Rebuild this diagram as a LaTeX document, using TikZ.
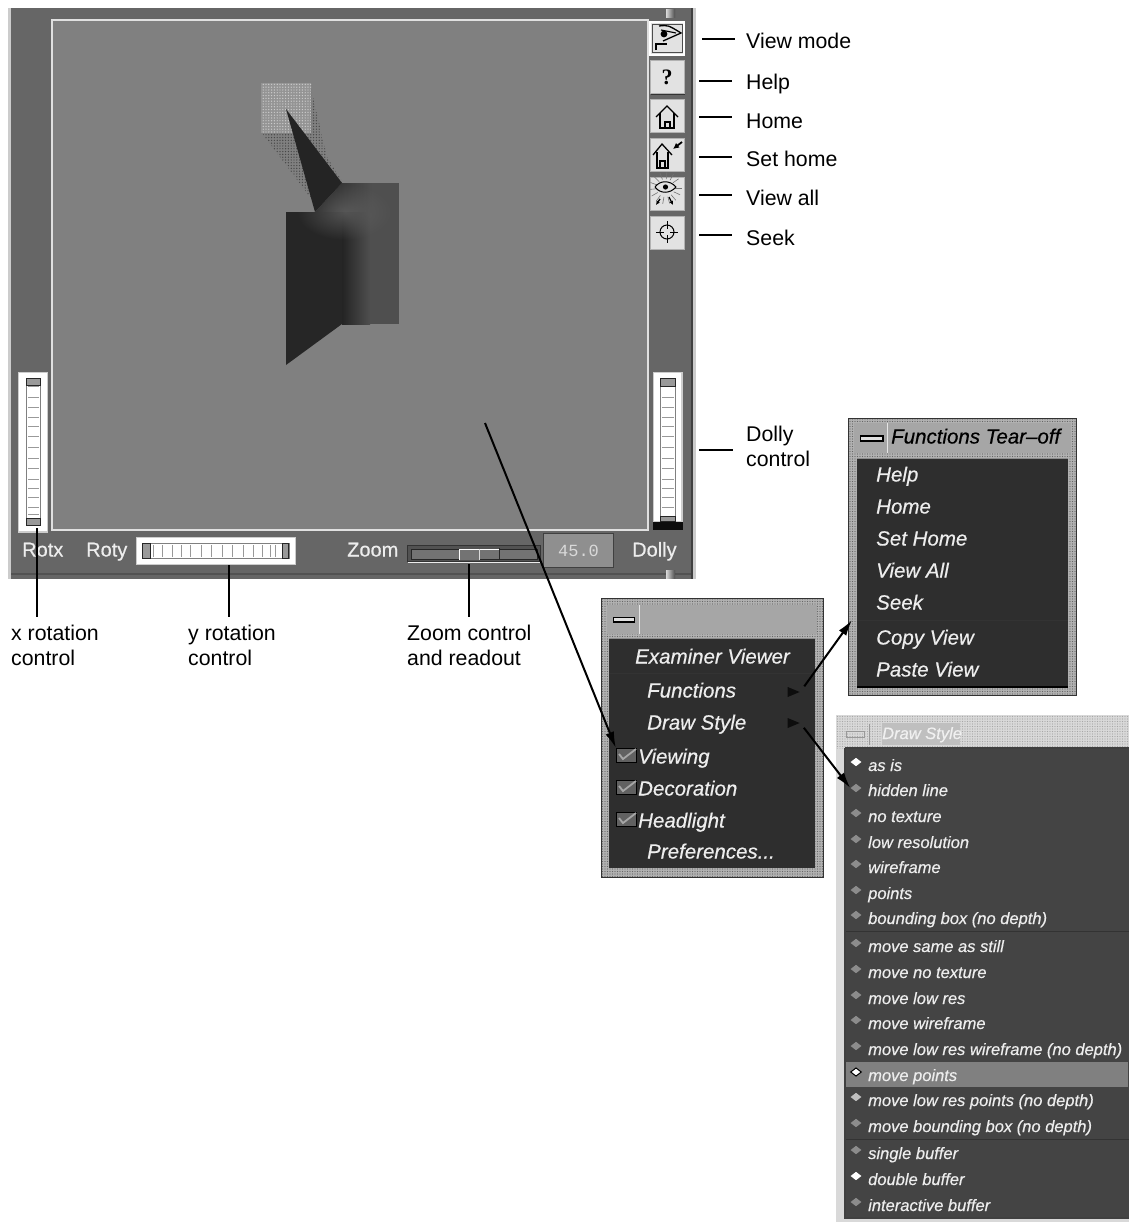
\documentclass[tikz,border=0pt]{standalone}
\usepackage{fontspec}
\setmainfont{Liberation Sans}[ItalicFeatures={FakeBold=0.5}]
\newfontfamily\serifbold{Liberation Serif}[BoldFont=Liberation Serif Bold]
\newfontfamily\readoutfont{Liberation Mono}
\newfontfamily\panelfont{Liberation Sans}[FakeBold=0.5]
\usetikzlibrary{shapes.geometric,arrows.meta,patterns.meta,fadings}

\definecolor{panel}{HTML}{666666}
\definecolor{canvas}{HTML}{808080}
\definecolor{btnface}{HTML}{E2E2E2}
\definecolor{menudark}{HTML}{2E2E2E}
\definecolor{menugrey}{HTML}{444444}
\definecolor{inktext}{HTML}{EDEDED}

\tikzfading[name=softspot, inner color=transparent!25, outer color=transparent!100]

\tikzset{
  btn/.style={draw=black!30, fill=btnface, line width=1pt, minimum width=34pt, minimum height=33pt, inner sep=0pt,
    preaction={fill=black!80, transform canvas={xshift=1.2pt,yshift=-1.2pt}}},
  leadlabel/.style={anchor=west, inner sep=0pt, font=\fontsize{21.3}{25}\selectfont, text height=15pt, text depth=0pt},
  twoline/.style={anchor=north west, inner sep=0pt, align=left, font=\fontsize{21.3}{25}\selectfont},
  leadline/.style={line width=2pt, black},
  pointer/.style={line width=2pt, black, -{Latex[length=16pt,width=9pt]}},
  panellabel/.style={anchor=west, inner sep=0pt, text=inktext, font=\panelfont\fontsize{20}{24}\selectfont, text height=15pt, text depth=0pt},
  bigitem/.style={anchor=west, inner sep=0pt, text=inktext, font=\fontsize{20.5}{24}\selectfont\itshape, text height=15pt, text depth=0pt},
  smallitem/.style={anchor=west, inner sep=0pt, text=inktext, font=\fontsize{16.5}{20}\selectfont\itshape, text height=12pt, text depth=0pt},
  radio/.style={diamond, fill=black!45, minimum width=11pt, minimum height=8.5pt, inner sep=0pt},
  radioon/.style={radio, fill=white},
  tick/.style={black!40, line width=0.9pt},
  wheelcap/.style={draw=black!85, fill=black!40, line width=1pt},
  arrowtri/.style={isosceles triangle, fill=black!95, minimum width=10pt, minimum height=12pt, inner sep=0pt, isosceles triangle stretches},
  checkbox/.style={fill=black!62, draw=black, minimum width=20pt, minimum height=14pt, inner sep=0pt},
  checkmark/.style={black!35, line width=1.8pt},
  sepline/.style={black!80, line width=1pt},
  menuframe/.style={draw=black!80, line width=1pt, preaction={fill=black!30}, pattern={Dots[distance=2.5pt,radius=0.7pt]}, pattern color=black!60}
}

\begin{document}
\begin{tikzpicture}[x=1pt,y=-1pt]
\useasboundingbox (0,0) rectangle (1129,1224);

% Draw viewer window
\fill[panel] (8,8) rectangle (695,579);
\fill[black!20] (8,8) rectangle (10.5,579);
\fill[black!75] (691,8) rectangle (692.5,579);
\fill[black!20] (692.5,8) rectangle (695.5,579);
\fill[black!68] (10.5,572.5) rectangle (691,574.5);
\draw[fill=canvas, draw=black!12, line width=2pt] (52,19.5) rectangle (648,529.5);
\shade[left color=black!15, right color=black!70] (666,9) rectangle (675,17);
\shade[left color=black!15, right color=black!70] (666,570) rectangle (675,578);

% Draw scene inside viewer
\fill[black!50] (262,133) -- (311,88) -- (327,157) -- (343,183) -- (310,197) -- cycle;
\fill[pattern={Dots[distance=2.8pt,radius=0.7pt]}, pattern color=black!72] (262,133) -- (311,88) -- (327,157) -- (343,183) -- (310,197) -- cycle;
\fill[black!42] (261,83) rectangle (311,133);
\fill[pattern={Dots[distance=2.8pt,radius=0.7pt]}, pattern color=black!20] (261,83) rectangle (311,133);
\fill[black!69] (342,183) rectangle (399,324);
\shade[left color=black!86, right color=black!69] (315,212) -- (342,183) -- (372,183) -- (372,212) -- cycle;
\shade[left color=black!86, right color=black!69] (342,212) rectangle (370,324);
\fill[black!85] (286,212) -- (342,212) -- (342,324) -- (286,365) -- cycle;
\fill[black!86] (286,109) -- (342,183) -- (315,212) -- cycle;
\begin{scope}
  \clip (315,212) -- (342,183) -- (399,183) -- (399,324) -- (342,324) -- (286,365) -- (286,212) -- cycle;
  \fill[black!62, path fading=softspot] (345,212) ellipse [x radius=48, y radius=28];
\end{scope}

% Draw buttons column
\node[btn, draw=white, line width=1.5pt] (btnView) at (667,38.5) {};
\draw[black!70, line width=0.8pt] (652,24.5) rectangle (682,52.5);
\node[btn] (btnHelp) at (667,77) {\serifbold\bfseries\fontsize{22}{22}\selectfont ?};
\node[btn] (btnHome) at (667,115.5) {};
\node[btn] (btnSet) at (667,154.5) {};
\node[btn] (btnAll) at (667,193.5) {};
\node[btn] (btnSeek) at (667,232.5) {};
\draw[line width=1.3pt] (656,50) -- (656,44) -- (667,44);
\draw[line width=1.3pt] (659,26) .. controls (668,25) .. (681,33) -- (663,41);
\draw[line width=1.1pt] (661,30) -- (676,33);
\fill (664,34) circle (3.4pt);
\draw[line width=1.3pt] (656,117) -- (667,106) -- (678,117);
\draw[line width=1.3pt] (660,113) -- (660,128) -- (674,128) -- (674,113);
\draw[line width=1.1pt] (665,128) -- (665,122) -- (670,122) -- (670,128);
\draw[line width=1.3pt] (653,155) -- (662,144) -- (672,155);
\draw[line width=1.3pt] (657,152) -- (657,168) -- (668,168) -- (668,152);
\draw[line width=1.1pt] (660,168) -- (660,161) -- (665,161) -- (665,168);
\draw[line width=1.8pt, -{Latex[length=6pt,width=6pt]}] (682,142) -- (673,149);
\foreach \ang in {0,25,...,335}
  \draw[black!55, line width=0.6pt] (665.5,188) ++(\ang:9) -- ++(\ang:7);
\draw[fill=btnface, line width=1pt] (655,187) .. controls (660,180) and (670,180) .. (676,187) .. controls (670,194) and (660,194) .. (655,187);
\fill (665.5,187) circle (2.6pt);
\draw[line width=1.3pt, -{Latex[length=4pt,width=4pt]}] (660,199) -- (656,205);
\draw[line width=1.3pt, -{Latex[length=4pt,width=4pt]}] (669,197) -- (673,205);
\draw[line width=1pt] (667,232) circle (7pt);
\draw[line width=1pt] (667,221) -- (667,229) (667,235) -- (667,243) (656,232) -- (664,232) (670,232) -- (678,232);

% Draw thumbwheels
\draw[draw=black!20, fill=white, line width=1.5pt] (18.5,372.5) rectangle (47.5,532);
\draw[draw=black!50, fill=white, line width=1pt] (26.5,378) rectangle (40.5,525);
\draw[wheelcap] (26.5,378) rectangle (40.5,385);
\draw[wheelcap] (26.5,518) rectangle (40.5,525);
\foreach \ty in {386,397,407,417,426,436,447,458,468,479,488,497,507,514}
  \draw[tick] (28,\ty) -- (39,\ty);
\draw[draw=black!20, fill=white, line width=1.5pt] (653.5,372.5) rectangle (682,522);
\fill[black!95] (653,522) rectangle (682.5,530);
\draw[draw=black!50, fill=white, line width=1pt] (660.5,378) rectangle (675,521);
\draw[wheelcap] (660.5,378) rectangle (675,386);
\draw[wheelcap] (660.5,516) rectangle (675,521);
\foreach \ty in {397,407,417,426,436,447,458,468,479,488,497,507}
  \draw[tick] (662,\ty) -- (673.5,\ty);
\draw[draw=black!20, fill=white, line width=1.5pt] (136.5,537.5) rectangle (295.5,564.5);
\draw[draw=black!50, fill=white, line width=1pt] (142,543.5) rectangle (289,558);
\draw[wheelcap] (142.5,543.5) rectangle (150,558);
\draw[wheelcap] (282,543.5) rectangle (288.5,558);
\foreach \tx in {153,162,172,181,190,201,211,222,232,243,253,262,270,275}
  \draw[tick] (\tx,545) -- (\tx,556.5);

% Draw zoom slider and readout
\draw[draw=black!80, fill=black!68, line width=1pt] (407.5,545) rectangle (540,561);
\draw[black!8, line width=1pt] (408,562.5) -- (540,562.5);
\draw[draw=black!85, fill=black!55, line width=0.8pt] (411,549) rectangle (537,559);
\fill[black!55] (459,549) rectangle (479,560);
\draw[white, line width=1pt] (459.5,560) -- (459.5,549) -- (499,549);
\draw[black!15, line width=1pt] (479,549) -- (479,560);
\draw[black!85, line width=1pt] (499.5,548) -- (499.5,560);
\node[draw=black!75, fill=black!44, line width=1pt, minimum width=70pt, minimum height=34pt, inner sep=0pt, anchor=north west, text=black!15, font=\readoutfont\fontsize{17}{20}\selectfont] (readout) at (543,533) {45.0};

\node[panellabel] (lblRotx) at (22,549) {Rotx};
\node[panellabel] (lblRoty) at (86,549) {Roty};
\node[panellabel] (lblZoom) at (347,549) {Zoom};
\node[panellabel] (lblDolly) at (632,549) {Dolly};

% Draw labels on the right
\node[leadlabel] (lblView) at (746,41) {View mode};
\node[leadlabel] (lblHelp) at (746,82) {Help};
\node[leadlabel] (lblHome) at (746,121) {Home};
\node[leadlabel] (lblSet) at (746,159) {Set home};
\node[leadlabel] (lblAll) at (746,198) {View all};
\node[leadlabel] (lblSeek) at (746,238) {Seek};
\node[twoline] (lblDollyCtl) at (746,426) {Dolly\\control};
\node[twoline] (lblRotxCtl) at (11,625) {x rotation\\control};
\node[twoline] (lblRotyCtl) at (188,625) {y rotation\\control};
\node[twoline] (lblZoomCtl) at (407,625) {Zoom control\\and readout};

\coordinate (startView) at (702,39);
\coordinate (startHelp) at (699,81);
\coordinate (startHome) at (699,117);
\coordinate (startSet) at (699,157);
\coordinate (startAll) at (699,195);
\coordinate (startSeek) at (699,235);
\coordinate (startDolly) at (699,450);
\coordinate (startRotx) at (36.5,528);
\coordinate (startRoty) at (228.5,565);
\coordinate (startZoom) at (468.5,564);
\draw[leadline, shorten >=11pt] (startView) -- (startView -| lblView.west);
\draw[leadline, shorten >=14pt] (startHelp) -- (startHelp -| lblHelp.west);
\draw[leadline, shorten >=14pt] (startHome) -- (startHome -| lblHome.west);
\draw[leadline, shorten >=14pt] (startSet) -- (startSet -| lblSet.west);
\draw[leadline, shorten >=14pt] (startAll) -- (startAll -| lblAll.west);
\draw[leadline, shorten >=14pt] (startSeek) -- (startSeek -| lblSeek.west);
\draw[leadline, shorten >=13pt] (startDolly) -- (startDolly -| lblDollyCtl.west);
\draw[leadline, shorten >=8pt] (startRotx) -- (startRotx |- lblRotxCtl.north);
\draw[leadline, shorten >=8pt] (startRoty) -- (startRoty |- lblRotyCtl.north);
\draw[leadline, shorten >=8pt] (startZoom) -- (startZoom |- lblZoomCtl.north);

% Draw examiner popup
\draw[menuframe] (601,598.5) rectangle (823,877.5);
\fill[black!35] (607,605) rectangle (817,634);
\draw[black!10, line width=1pt] (639.5,605) -- (639.5,634);
\draw[draw=black, fill=black!12, line width=1.2pt] (613.5,617.5) rectangle (634.5,622);
\fill[menudark] (609,638) rectangle (815,868);
\draw[black!45, line width=1pt] (609,638) -- (815,638);
\draw[sepline] (609,673) -- (815,673);
\node[bigitem] (itemExam) at (635,656) {Examiner Viewer};
\node[bigitem] (itemFunc) at (647,690) {Functions};
\node[bigitem] (itemDraw) at (647,722) {Draw Style};
\node[bigitem] (itemView) at (638,756) {Viewing};
\node[bigitem] (itemDeco) at (638,788) {Decoration};
\node[bigitem] (itemHead) at (638,820) {Headlight};
\node[bigitem] (itemPref) at (647,851) {Preferences...};
\node[arrowtri] (triFunc) at (791,692) {};
\node[arrowtri] (triDraw) at (791,723) {};
\node[checkbox] (chkView) at (626,755) {};
\node[checkbox] (chkDeco) at (626,787) {};
\node[checkbox] (chkHead) at (626,819) {};
\draw[checkmark] (619,754) -- (623,759) -- (636,749);
\draw[checkmark] (619,786) -- (623,791) -- (636,781);
\draw[checkmark] (619,818) -- (623,823) -- (636,813);

% Draw functions tear-off
\draw[menuframe] (848,418.5) rectangle (1076,695);
\fill[black!35] (854,423) rectangle (1071,453);
\draw[black!10, line width=1pt] (887.5,423) -- (887.5,453);
\draw[draw=black, fill=black!12, line width=1.2pt] (860.5,436) rectangle (883,441);
\node[bigitem, text=black] (titleFunc) at (891,436) {Functions Tear–off};
\fill[menudark] (857,458) rectangle (1068,687);
\draw[black!45, line width=1pt] (857,458) -- (1068,458);
\draw[black, line width=2pt] (857,687) -- (1068,687);
\draw[sepline] (857,620) -- (1068,620);
\node[bigitem] (funcHelp) at (876,474) {Help};
\node[bigitem] (funcHome) at (876,506) {Home};
\node[bigitem] (funcSet) at (876,538) {Set Home};
\node[bigitem] (funcAll) at (876,570) {View All};
\node[bigitem] (funcSeek) at (876,602) {Seek};
\node[bigitem] (funcCopy) at (876,637) {Copy View};
\node[bigitem] (funcPaste) at (876,669) {Paste View};

% Draw draw style menu
\fill[black!15] (836,715) rectangle (1129,1222);
\fill[pattern={Dots[distance=2.5pt,radius=0.6pt]}, pattern color=black!35] (836,715) rectangle (1129,748);
\fill[black!25] (882,723) rectangle (960,745);
\draw[black!40, line width=1pt] (846,731) rectangle (864,737);
\draw[black!40, line width=1pt] (869,724) -- (869,745);
\node[bigitem, smallitem, text=black!6] (titleDraw) at (882,733) {Draw Style};
\fill[menugrey] (845,748) rectangle (1129,1218);
\draw[black!75, line width=1.2pt] (845,748) -- (1129,748) (845,748) -- (845,1218) -- (1129,1218);
\draw[sepline] (846,931) -- (1129,931);
\draw[sepline] (846,1139) -- (1129,1139);
\fill[canvas] (846,1062) rectangle (1128,1087);
\node[smallitem] (styleAsis) at (868,765) {as is};
\node[smallitem] (styleHidden) at (868,790) {hidden line};
\node[smallitem] (styleNotex) at (868,816) {no texture};
\node[smallitem] (styleLowres) at (868,842) {low resolution};
\node[smallitem] (styleWire) at (868,867) {wireframe};
\node[smallitem] (stylePoints) at (868,893) {points};
\node[smallitem] (styleBox) at (868,918) {bounding box (no depth)};
\node[smallitem] (moveSame) at (868,946) {move same as still};
\node[smallitem] (moveNotex) at (868,972) {move no texture};
\node[smallitem] (moveLow) at (868,998) {move low res};
\node[smallitem] (moveWire) at (868,1023) {move wireframe};
\node[smallitem] (moveLowWire) at (868,1049) {move low res wireframe (no depth)};
\node[smallitem] (movePoints) at (868,1075) {move points};
\node[smallitem] (moveLowPoints) at (868,1100) {move low res points (no depth)};
\node[smallitem] (moveBox) at (868,1126) {move bounding box (no depth)};
\node[smallitem] (bufSingle) at (868,1153) {single buffer};
\node[smallitem] (bufDouble) at (868,1179) {double buffer};
\node[smallitem] (bufInter) at (868,1205) {interactive buffer};
\node[radioon] (rAsis) at (856,762) {};
\node[radio] (rHidden) at (856,788) {};
\node[radio] (rNotex) at (856,813) {};
\node[radio] (rLowres) at (856,839) {};
\node[radio] (rWire) at (856,864) {};
\node[radio] (rPoints) at (856,890) {};
\node[radio] (rBox) at (856,915) {};
\node[radio] (rSame) at (856,943) {};
\node[radio] (rNotexm) at (856,969) {};
\node[radio] (rLow) at (856,995) {};
\node[radio] (rWirem) at (856,1020) {};
\node[radio] (rLowWire) at (856,1046) {};
\node[radioon, draw=black, line width=1pt] (rMove) at (856,1072) {};
\node[radio, fill=black!25] (rLowPoints) at (856,1097) {};
\node[radio] (rBoxm) at (856,1123) {};
\node[radio] (rSingle) at (856,1150) {};
\node[radioon] (rDouble) at (856,1176) {};
\node[radio] (rInter) at (856,1202) {};

% Draw arrows between menus
\coordinate (startCheck) at (485,423);
\coordinate (tipFunc) at (852,620);
\draw[pointer] (startCheck) -- (chkView.north west);
\draw[pointer, shorten <=7pt] (triFunc.east) -- (tipFunc);
\draw[pointer, shorten <=6pt] (triDraw.east) -- (rHidden.west);
\end{tikzpicture}
\end{document}
